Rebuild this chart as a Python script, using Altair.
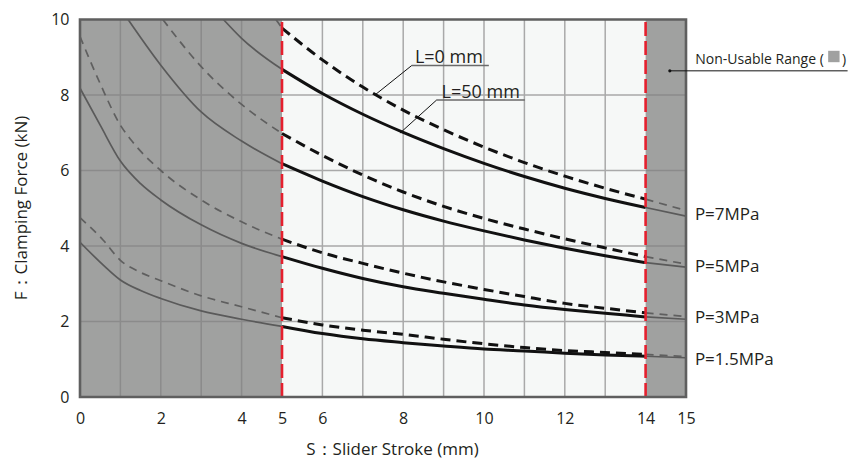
import altair as alt
import pandas as pd

FONT = "Open Sans"
TXT = "#231f20"

X_TICKS = [0, 2, 4, 5, 6, 8, 10, 12, 14, 15]
Y_TICKS = [0, 2, 4, 6, 8, 10]
X_MID = [5, 6, 7, 8, 9, 10, 11, 12, 13, 14]
X_RIGHT = [14, 15]

# ---- P = 7 MPa
p7_l0_left_x = [4.85, 5]
p7_l0_left_f = [10, 9.77]
p7_l0_mid = [9.77, 8.93, 8.21, 7.6, 7.08, 6.62, 6.21, 5.85, 5.53, 5.24]
p7_l0_right = [5.24, 4.94]

p7_l50_left_x = [3.55, 4, 5]
p7_l50_left_f = [10, 9.5, 8.68]
p7_l50_mid = [8.68, 8.04, 7.49, 7.01, 6.58, 6.19, 5.84, 5.53, 5.26, 5.02]
p7_l50_right = [5.02, 4.79]

# ---- P = 5 MPa
p5_l0_left_x = [2.05, 3, 4, 5]
p5_l0_left_f = [10, 8.75, 7.75, 6.98]
p5_l0_mid = [6.98, 6.4, 5.88, 5.43, 5.05, 4.73, 4.45, 4.19, 3.95, 3.72]
p5_l0_right = [3.72, 3.52]

p5_l50_left_x = [1.19, 2, 3, 4, 5]
p5_l50_left_f = [10, 8.79, 7.55, 6.78, 6.18]
p5_l50_mid = [6.18, 5.72, 5.31, 4.96, 4.66, 4.4, 4.16, 3.94, 3.74, 3.56]
p5_l50_right = [3.56, 3.44]

# ---- P = 3 MPa
p3_l0_left_x = [0, 0.5, 1, 1.27, 2, 3, 4, 5]
p3_l0_left_f = [9.55, 8.3, 7.2, 6.8, 6.0, 5.22, 4.64, 4.18]
p3_l0_mid = [4.18, 3.82, 3.54, 3.28, 3.05, 2.85, 2.66, 2.48, 2.35, 2.23]
p3_l0_right = [2.23, 2.13]

p3_l50_left_x = [0, 0.5, 1, 1.5, 2, 3, 4, 5]
p3_l50_left_f = [8.18, 7.2, 6.25, 5.65, 5.22, 4.56, 4.07, 3.72]
p3_l50_mid = [3.72, 3.41, 3.14, 2.92, 2.75, 2.59, 2.44, 2.32, 2.22, 2.12]
p3_l50_right = [2.12, 2.06]

# ---- P = 1.5 MPa
p15_l0_left_x = [0, 0.57, 1, 1.5, 2, 3, 4, 5]
p15_l0_left_f = [4.75, 4.16, 3.62, 3.3, 3.08, 2.68, 2.39, 2.1]
p15_l0_mid = [2.1, 1.91, 1.77, 1.66, 1.53, 1.41, 1.31, 1.23, 1.18, 1.13]
p15_l0_right = [1.13, 1.07]

p15_l50_left_x = [0, 0.57, 1, 1.5, 2, 3, 4, 5]
p15_l50_left_f = [4.1, 3.5, 3.1, 2.82, 2.61, 2.28, 2.06, 1.87]
p15_l50_mid = [1.87, 1.68, 1.54, 1.44, 1.35, 1.27, 1.22, 1.16, 1.11, 1.08]
p15_l50_right = [1.08, 1.04]

curves = [
    ("7", "L=0", p7_l0_left_x, p7_l0_left_f, p7_l0_mid, p7_l0_right),
    ("7", "L=50", p7_l50_left_x, p7_l50_left_f, p7_l50_mid, p7_l50_right),
    ("5", "L=0", p5_l0_left_x, p5_l0_left_f, p5_l0_mid, p5_l0_right),
    ("5", "L=50", p5_l50_left_x, p5_l50_left_f, p5_l50_mid, p5_l50_right),
    ("3", "L=0", p3_l0_left_x, p3_l0_left_f, p3_l0_mid, p3_l0_right),
    ("3", "L=50", p3_l50_left_x, p3_l50_left_f, p3_l50_mid, p3_l50_right),
    ("1.5", "L=0", p15_l0_left_x, p15_l0_left_f, p15_l0_mid, p15_l0_right),
    ("1.5", "L=50", p15_l50_left_x, p15_l50_left_f, p15_l50_mid, p15_l50_right),
]

rows = []
for p, l, lx, lf, mid, right in curves:
    for xv, fv in zip(lx, lf):
        rows.append({"P": p, "L": l, "seg": "left", "key": p + l + "left", "x": xv, "F": fv})
    for xv, fv in zip(X_MID, mid):
        rows.append({"P": p, "L": l, "seg": "mid", "key": p + l + "mid", "x": xv, "F": fv})
    for xv, fv in zip(X_RIGHT, right):
        rows.append({"P": p, "L": l, "seg": "right", "key": p + l + "right", "x": xv, "F": fv})
df = pd.DataFrame(rows)

xs = alt.Scale(domain=[0, 15], nice=False, zero=False)
ys = alt.Scale(domain=[0, 10], nice=False, zero=False)

# backgrounds
bg_x = [0, 5, 14]
bg_x2 = [5, 14, 15]
bg_c = ["#a0a1a0", "#f6f8f7", "#a0a1a0"]
bg = alt.Chart(pd.DataFrame({"x": bg_x, "x2": bg_x2, "y": [0] * 3, "y2": [10] * 3, "c": bg_c})).mark_rect().encode(
    x=alt.X("x:Q", scale=xs, axis=alt.Axis(
        values=X_TICKS, grid=False, ticks=False, domain=False, labelFlush=False,
        labelPadding=13, labelFontSize=16, labelFont=FONT, labelColor=TXT,
        title="S：Slider Stroke (mm)", titleFont=FONT, titleFontSize=17, titleFontWeight="normal",
        titleColor=TXT, titleX=312, titleY=57, titleBaseline="alphabetic")),
    x2="x2:Q",
    y=alt.Y("y:Q", scale=ys, axis=alt.Axis(
        values=Y_TICKS, grid=False, ticks=False, domain=False,
        labelPadding=11, labelFontSize=16, labelFont=FONT, labelColor=TXT,
        title="F：Clamping Force (kN)", titleFont=FONT, titleFontSize=17, titleFontWeight="normal",
        titleColor=TXT, titleX=-59, titleY=188, titleBaseline="middle", titleAlign="center")),
    y2="y2:Q",
    color=alt.Color("c:N", scale=None),
)

# grid
DARK_G = "#8b8b8b"
LIGHT_G = "#a9a9a9"
g_rows = []
for v in [1, 2, 3, 4]:
    g_rows.append({"x": v, "x2": v, "y": 0, "y2": 10, "c": DARK_G})
for v in [6, 7, 8, 9, 10, 11, 12, 13]:
    g_rows.append({"x": v, "x2": v, "y": 0, "y2": 10, "c": LIGHT_G})
for h in [2, 4, 6, 8]:
    g_rows.append({"x": 0, "x2": 5, "y": h, "y2": h, "c": DARK_G})
    g_rows.append({"x": 5, "x2": 14, "y": h, "y2": h, "c": LIGHT_G})
    g_rows.append({"x": 14, "x2": 15, "y": h, "y2": h, "c": DARK_G})
grid = alt.Chart(pd.DataFrame(g_rows)).mark_rule(strokeWidth=1.5).encode(
    x=alt.X("x:Q", scale=xs), x2="x2:Q", y=alt.Y("y:Q", scale=ys), y2="y2:Q",
    color=alt.Color("c:N", scale=None),
)

base = alt.Chart(df)
enc = dict(x=alt.X("x:Q", scale=xs), y=alt.Y("F:Q", scale=ys), detail="key:N")

gray_solid = base.transform_filter("datum.seg != 'mid' && datum.L == 'L=50'").mark_line(
    color="#5a5a5a", strokeWidth=1.7, interpolate="monotone").encode(**enc)
gray_dash = base.transform_filter("datum.seg != 'mid' && datum.L == 'L=0'").mark_line(
    color="#5f5f5f", strokeWidth=1.7, strokeDash=[8, 6], interpolate="monotone").encode(**enc)
black_solid = base.transform_filter("datum.seg == 'mid' && datum.L == 'L=50'").mark_line(
    color="#111111", strokeWidth=3, interpolate="monotone").encode(**enc)
black_dash = base.transform_filter("datum.seg == 'mid' && datum.L == 'L=0'").mark_line(
    color="#111111", strokeWidth=3, strokeDash=[10, 6], interpolate="monotone").encode(**enc)

# red limits
red = alt.Chart(pd.DataFrame({"x": [5, 14], "y": [0, 0], "y2": [10, 10]})).mark_rule(
    color="#e5202e", strokeWidth=2.6, strokeDash=[14, 5]).encode(
    x=alt.X("x:Q", scale=xs), y=alt.Y("y:Q", scale=ys), y2="y2:Q")

frame = alt.Chart(pd.DataFrame({"x": [0], "x2": [15], "y": [0], "y2": [10]})).mark_rect(
    filled=False, stroke="#5f5f5f", strokeWidth=2.6).encode(
    x=alt.X("x:Q", scale=xs), x2="x2:Q", y=alt.Y("y:Q", scale=ys), y2="y2:Q")

# annotations: leader lines
ann_lines = pd.DataFrame([
    {"x": 8.21, "x2": 10.12, "y": 8.78, "y2": 8.78, "c": "#6a6a6a", "w": 1.5},
    {"x": 8.21, "x2": 7.30, "y": 8.78, "y2": 8.0, "c": "#111111", "w": 1.0},
    {"x": 8.83, "x2": 11.01, "y": 7.87, "y2": 7.87, "c": "#6a6a6a", "w": 1.5},
    {"x": 8.83, "x2": 7.92, "y": 7.87, "y2": 6.99, "c": "#111111", "w": 1.0},
    {"x": 14.6, "x2": 19.0, "y": 8.64, "y2": 8.64, "c": "#111111", "w": 1.0},
])
ann_rule = alt.Chart(ann_lines).mark_rule().encode(
    x=alt.X("x:Q", scale=xs), x2="x2:Q", y=alt.Y("y:Q", scale=ys), y2="y2:Q",
    color=alt.Color("c:N", scale=None), strokeWidth=alt.StrokeWidth("w:Q", scale=None))

dot = alt.Chart(pd.DataFrame({"x": [14.6], "y": [8.64]})).mark_circle(size=10, color="#111111", opacity=1).encode(
    x=alt.X("x:Q", scale=xs), y=alt.Y("y:Q", scale=ys))

l_labels = pd.DataFrame({"x": [8.29, 8.95], "y": [8.85, 7.92], "t": ["L=0 mm", "L=50 mm"]})
l_text = alt.Chart(l_labels).mark_text(align="left", baseline="alphabetic", font=FONT, fontSize=18, color=TXT).encode(
    x=alt.X("x:Q", scale=xs), y=alt.Y("y:Q", scale=ys), text="t:N")

p_labels = pd.DataFrame({"x": [15.22] * 4, "y": [4.82, 3.45, 2.1, 0.98],
                         "t": ["P=7MPa", "P=5MPa", "P=3MPa", "P=1.5MPa"]})
p_text = alt.Chart(p_labels).mark_text(align="left", baseline="middle", font=FONT, fontSize=17, color=TXT).encode(
    x=alt.X("x:Q", scale=xs), y=alt.Y("y:Q", scale=ys), text="t:N")

nu_text = alt.Chart(pd.DataFrame({"x": [18.41], "y": [8.82], "t": ["Non-Usable Range ("]})).mark_text(
    align="right", baseline="alphabetic", font=FONT, fontSize=14, color=TXT).encode(
    x=alt.X("x:Q", scale=xs), y=alt.Y("y:Q", scale=ys), text="t:N")
nu_close = alt.Chart(pd.DataFrame({"x": [18.86], "y": [8.82], "t": [")"]})).mark_text(
    align="left", baseline="alphabetic", font=FONT, fontSize=14, color=TXT).encode(
    x=alt.X("x:Q", scale=xs), y=alt.Y("y:Q", scale=ys), text="t:N")
nu_sq = alt.Chart(pd.DataFrame({"x": [18.66], "y": [9.02]})).mark_square(size=130, color="#a0a1a0", opacity=1).encode(
    x=alt.X("x:Q", scale=xs), y=alt.Y("y:Q", scale=ys))

chart = alt.layer(
    bg, grid, gray_solid, gray_dash, black_solid, black_dash, red, frame,
    ann_rule, dot, l_text, p_text, nu_text, nu_close, nu_sq,
).properties(
    width=606, height=377.5,
    autosize=alt.AutoSizeParams(type="none"),
    padding={"left": 72, "top": 11.5, "right": 164, "bottom": 63},
    background="white",
).configure_view(strokeWidth=0)

chart.save("out.html", embed_options={"renderer": "svg", "actions": False})
